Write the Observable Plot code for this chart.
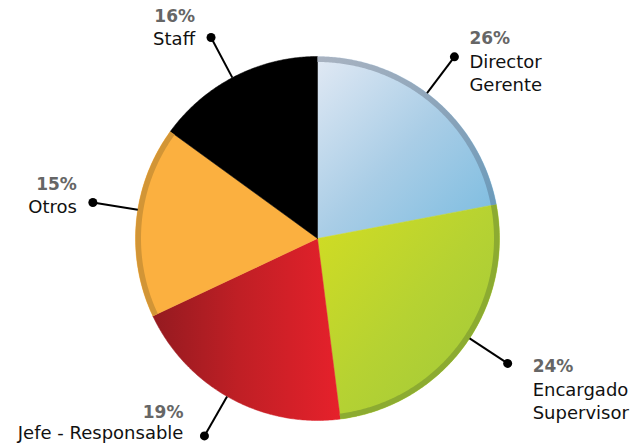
<!DOCTYPE html>
<html>
<head>
<meta charset="utf-8">
<script src="https://cdn.jsdelivr.net/npm/d3@7"></script>
<script src="https://cdn.jsdelivr.net/npm/@observablehq/plot@0.6"></script>
<style>
  html, body { margin: 0; padding: 0; background: #fff; }
</style>
</head>
<body>
<div id="chart"></div>
<script>
// ---- data ----
const categories = ["Director\nGerente", "Encargado\nSupervisor", "Jefe - Responsable", "Otros", "Staff"];
const percentValues = [26, 24, 19, 15, 16];          // printed labels
const drawnShares = [22, 26, 20, 17, 15];            // slice sizes as drawn in the picture

// ---- styles / layout ----
const fills = ["url(#gBlue)", "url(#gGreen)", "url(#gRed)", "#fbb040", "#000000"];
const rims = ["url(#gBlueRim)", "#8cab31", null, "#d29536", null];
const leaderAngles = [37, 123.3, 209.8, 279.1, 332.1]; // degrees clockwise from 12 o'clock
const leaderLength = 1.25;
const labelLayout = [
  {anchor: "start", dx: 15, pctDy: -13, nameDy: 34},
  {anchor: "start", dx: 25, pctDy: 9, nameDy: 56},
  {anchor: "end", dx: -21, pctDy: -18, nameDy: 3},
  {anchor: "end", dx: -16, pctDy: -13, nameDy: 10},
  {anchor: "end", dx: -16, pctDy: -15, nameDy: 8}
];

const W = 643, H = 446, CX = 317, CY = 238, R = 182;

// ---- geometry from d3.pie ----
const arcs = d3.pie().sort(null).value(d => d)(drawnShares);
const rad = a => a * Math.PI / 180;

function wedge(a0, a1, r0, r1, key) {
  const n = Math.max(4, Math.ceil((a1 - a0) / rad(0.5)));
  const pts = [];
  if (r0 === 0) pts.push({key, x: 0, y: 0});
  for (let i = 0; i <= n; i++) {
    const a = a0 + (a1 - a0) * i / n;
    pts.push({key, x: r1 * Math.sin(a), y: r1 * Math.cos(a)});
  }
  if (r0 === 0) pts.push({key, x: 0, y: 0});
  else {
    for (let i = n; i >= 0; i--) {
      const a = a0 + (a1 - a0) * i / n;
      pts.push({key, x: r0 * Math.sin(a), y: r0 * Math.cos(a)});
    }
    pts.push(pts[0]);
  }
  return pts;
}

const disk = wedge(0, 2 * Math.PI, 0, 1, "disk");
const sliceMarks = arcs.map((a, i) =>
  Plot.line(wedge(a.startAngle, a.endAngle, 0, 1, i), {x: "x", y: "y", fill: fills[i], stroke: fills[i], strokeWidth: 0.5})
);
const rimWidth = 5.5 / R;
const rimMarks = arcs.map((a, i) => rims[i] ?
  Plot.line(wedge(a.startAngle, a.endAngle, 1 - rimWidth, 1, "rim" + i), {x: "x", y: "y", fill: rims[i], stroke: "none"}) : null
).filter(Boolean);

const leaders = categories.map((c, i) => {
  const a = rad(leaderAngles[i]);
  return {
    i,
    x1: Math.sin(a), y1: Math.cos(a),
    x2: leaderLength * Math.sin(a), y2: leaderLength * Math.cos(a)
  };
});

const textMarks = [];
leaders.forEach((d, i) => {
  const L = labelLayout[i];
  textMarks.push(Plot.text([d], {
    x: "x2", y: "y2", text: () => percentValues[i] + "%",
    textAnchor: L.anchor, lineAnchor: "bottom", dx: L.dx, dy: L.pctDy,
    fontSize: 17, fontWeight: "bold", fill: "#666666"
  }));
  textMarks.push(Plot.text([d], {
    x: "x2", y: "y2", text: () => categories[i],
    textAnchor: L.anchor, lineAnchor: "bottom", dx: L.dx, dy: L.nameDy,
    fontSize: 18, fill: "#111111", lineHeight: 1.29
  }));
});

const chart = Plot.plot({
  width: W,
  height: H,
  margin: 0,
  style: {fontFamily: "'DejaVu Sans', sans-serif", background: "#ffffff", overflow: "visible"},
  x: {domain: [(0 - CX) / R, (W - CX) / R], axis: null},
  y: {domain: [(CY - H) / R, CY / R], axis: null},
  marks: [
    Plot.line(disk, {x: "x", y: "y", fill: "#ffffff", stroke: "none", ariaLabel: "pie-shadow"}),
    ...sliceMarks,
    ...rimMarks,
    Plot.link(leaders, {x1: "x1", y1: "y1", x2: "x2", y2: "y2", stroke: "#000", strokeWidth: 2}),
    Plot.dot(leaders, {x: "x2", y: "y2", r: 4.5, fill: "#000", stroke: "none"}),
    ...textMarks
  ]
});

// gradient & shadow definitions
const svg = d3.select(chart);
const defs = svg.insert("defs", ":first-child");
function lin(id, x1, y1, x2, y2, stops) {
  const g = defs.append("linearGradient").attr("id", id)
    .attr("x1", x1).attr("y1", y1).attr("x2", x2).attr("y2", y2);
  stops.forEach(([o, c]) => g.append("stop").attr("offset", o).attr("stop-color", c));
}
lin("gBlue", 0, 0, 1, 1, [[0, "#e1e9f4"], [0.5, "#a9cde6"], [1, "#78bbe0"]]);
lin("gBlueRim", 0, 0, 1, 1, [[0, "#a9b3c1"], [0.6, "#87a2b9"], [1, "#6b9bbb"]]);
lin("gGreen", 0, 0, 1, 1, [[0, "#d3dd22"], [0.5, "#b6d232"], [1, "#9ec83c"]]);
lin("gRed", 0, 0, 1, 0, [[0, "#941a20"], [0.45, "#bf1f25"], [1, "#e6212b"]]);
const f = defs.append("filter").attr("id", "pieShadow")
  .attr("x", "-20%").attr("y", "-20%").attr("width", "140%").attr("height", "140%");
f.append("feDropShadow").attr("dx", 4).attr("dy", 5).attr("stdDeviation", 5)
  .attr("flood-color", "#000").attr("flood-opacity", 0.3);
svg.selectAll('g[aria-label="pie-shadow"]').attr("filter", "url(#pieShadow)");

document.getElementById("chart").appendChild(chart);
</script>
</body>
</html>
